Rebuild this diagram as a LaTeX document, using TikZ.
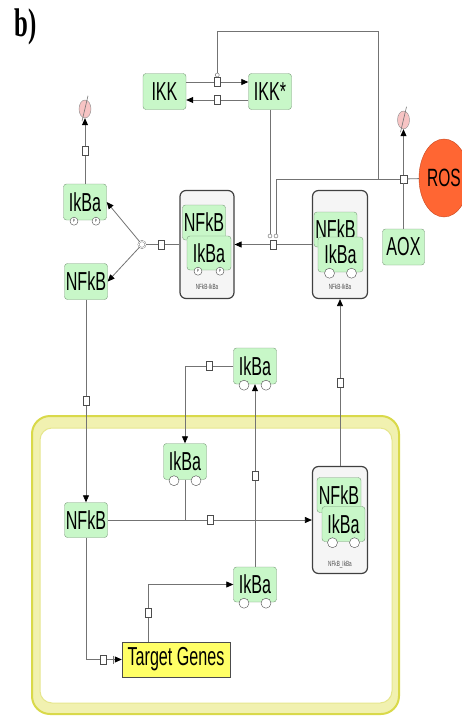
\documentclass[tikz,border=0pt]{standalone}
\usepackage{fontspec}
\newfontfamily\spnfont[FakeStretch=0.62]{Liberation Sans}
\newfontfamily\panelfont[FakeStretch=0.62]{Liberation Serif}
\usetikzlibrary{positioning,arrows.meta,shapes.geometric}
\definecolor{spnfill}{HTML}{C8F7C8}
\definecolor{spnedge}{HTML}{7A9A7A}
\definecolor{nucedge}{HTML}{D9D94A}
\definecolor{nucband}{HTML}{F1F1B0}
\definecolor{nucinner}{HTML}{E6E68C}
\definecolor{rosfill}{HTML}{FF6633}
\definecolor{rosedge}{HTML}{C8461E}
\definecolor{sinkfill}{HTML}{F7C4C4}
\definecolor{genefill}{HTML}{FFFF66}
\tikzset{
  spn/.style={draw=spnedge, fill=spnfill, rounded corners=3pt, inner sep=0pt,
    minimum width=43pt, minimum height=36pt, font=\spnfont\fontsize{26}{26}\selectfont},
  cplx/.style={draw=black!75, fill=black!4, rounded corners=6pt, line width=1.2pt,
    minimum width=55pt, minimum height=108pt},
  cplxlab/.style={font=\spnfont\fontsize{7.5}{8}\selectfont, text=black!70},
  wire/.style={draw=black!55, line width=0.8pt},
  flow/.style={wire, -{Triangle[length=7pt,width=6pt,color=black]}},
}

\begin{document}
\begin{tikzpicture}[x=1pt, y=-1pt,
    site/.style={circle, draw=black!70, fill=white, inner sep=0pt, minimum size=10pt},
    psite/.style={site, minimum size=8pt, font=\spnfont\fontsize{4.5}{5}\selectfont},
    proc/.style={draw=black!70, fill=white, inner sep=0pt, minimum width=6pt, minimum height=9pt, line width=0.6pt},
    catal/.style={circle, draw=black!60, fill=white, inner sep=0pt, minimum size=4pt},
    sink/.style={ellipse, draw=black!45, fill=sinkfill, inner sep=0pt, minimum width=12pt, minimum height=18pt}]
  \useasboundingbox (0,0) rectangle (462,717);
  \clip (0,0) rectangle (462,717);
  % nucleus
  \draw[draw=nucedge, fill=nucband, line width=2pt, rounded corners=18pt] (32,416) rectangle (399,714);
  \draw[draw=nucinner, fill=white, line width=1pt, rounded corners=12pt] (40,428) rectangle (392,703);
  \node[font=\panelfont\bfseries\fontsize{40}{40}\selectfont] (panel) at (26,27) {b)};
  % species
  \node[spn] (IKK) at (164.5,91.5) {IKK};
  \node[spn] (IKKs) at (270,91.5) {IKK*};
  \node[spn] (IkBaP) at (85,202) {IkBa};
  \node[spn] (NFkBc) at (86,281.5) {NFkB};
  \node[spn, minimum width=42pt] (AOX) at (403.5,247) {AOX};
  \node[ellipse, draw=rosedge, fill=rosfill, inner sep=0pt, minimum width=50pt, minimum height=78pt,
    font=\spnfont\fontsize{25}{25}\selectfont] (ROS) at (444,178) {ROS};
  \node[spn] (IkBaCyt) at (255,366) {IkBa};
  \node[spn] (IkBaN1) at (185,461.5) {IkBa};
  \node[spn, minimum height=35pt] (NFkBn) at (86,520) {NFkB};
  \node[spn, minimum height=35pt] (IkBaN2) at (255,584.5) {IkBa};
  \node[spn, fill=genefill, draw=black!70, rounded corners=0pt, minimum width=108pt, minimum height=35pt] (Target) at (176,659.5) {Target Genes};
  % complexes
  \node[cplx, minimum width=54pt] (cx1) at (207,244.5) {};
  \node[spn, minimum height=35pt] (cx1N) at (204,222.5) {NFkB};
  \node[spn, minimum width=44pt, minimum height=34pt] (cx1I) at (209,253) {IkBa};
  \node[cplxlab] (cx1lab) at (207,287) {NFkB-IkBa};
  \node[cplx] (cx2) at (340,244.5) {};
  \node[spn, minimum height=35pt] (cx2N) at (335.5,229.5) {NFkB};
  \node[spn, minimum width=45pt, minimum height=35pt] (cx2I) at (340.5,254.5) {IkBa};
  \node[cplxlab] (cx2lab) at (340,287) {NFkB-IkBa};
  \node[cplx, minimum height=107pt] (cx3) at (340,520) {};
  \node[spn, minimum width=44pt, minimum height=35pt] (cx3N) at (339,495) {NFkB};
  \node[spn, minimum height=35pt] (cx3I) at (343.5,524) {IkBa};
  \node[cplxlab] (cx3lab) at (340,565) {NFkB\_IkBa};
  % binding sites
  \foreach \n in {IkBaCyt,IkBaN1,IkBaN2,cx2I,cx3I} {
    \node[site] (\n-a) at ([xshift=-11pt,yshift=-1pt]\n.south) {};
    \node[site] (\n-b) at ([xshift=11pt,yshift=-1pt]\n.south) {};
  }
  \foreach \n in {IkBaP,cx1I} {
    \node[psite] (\n-a) at ([xshift=-11pt,yshift=-1pt]\n.south) {P};
    \node[psite] (\n-b) at ([xshift=11pt,yshift=-1pt]\n.south) {P};
  }
  % sinks
  \node[sink] (deg1) at (85,109) {};
  \node[sink] (deg2) at (403.5,120) {};
  \foreach \d in {deg1,deg2}
    \draw[draw=black!55, line width=0.6pt] ([xshift=-3pt,yshift=-3pt]\d.south) -- ([xshift=3pt,yshift=4pt]\d.north);
  % IKK activation
  \draw[flow] ([yshift=9.5pt]IKK.east) -- node[proc] (rAct) {} ([yshift=9.5pt]IKKs.west);
  \draw[flow] ([yshift=-8.5pt]IKKs.west) -- node[proc] (rInact) {} ([yshift=-8.5pt]IKK.east);
  \node[catal, above=0pt of rAct] (mAct) {};
  % ROS removal by AOX
  \node[proc, minimum width=7pt, minimum height=8pt] (rROS) at (403.5,179) {};
  \draw[wire] (AOX) -- (rROS);
  \draw[wire] (ROS) -- (rROS);
  \draw[flow] (rROS) -- (deg2);
  \coordinate (rosBend) at (378,179);
  \coordinate (rosTop) at (378,31);
  \draw[wire] (rROS) -- (rosBend) -- (rosTop) -| (mAct);
  % dissociation of the complex
  \draw[flow] (cx2.west) -- node[proc] (rDis) {} (cx1.east);
  \node[catal] (mDisA) at (270,236) {};
  \node[catal] (mDisB) at (276,236) {};
  \draw[wire] (IKKs.south) -- (mDisA);
  \draw[wire] (rosBend) -| (mDisB);
  % degradation of IkBa-P
  \draw[flow] (IkBaP) -- node[proc] (rDeg) {} (deg1);
  % release of NFkB
  \node[circle, draw=black!55, double distance=0.8pt, inner sep=0pt, minimum size=7pt] (split) at (142,244.5) {};
  \draw[wire] (cx1) -- node[proc, pos=0.55] (rRel) {} (split);
  \draw[flow] (split) -- (IkBaP.east);
  \draw[flow] (split) -- (NFkBc.east);
  % nuclear import
  \draw[flow] (NFkBc) -- node[proc] (rImp) {} (NFkBn);
  \draw[flow] (IkBaCyt.west) -| node[proc, pos=0.25] (rImpI) {} (IkBaN1.north);
  % complex formation in the nucleus
  \draw[flow] (NFkBn) -- node[proc] (rBind) {} (cx3);
  \draw[wire] (IkBaN1.south) -- (IkBaN1.south |- NFkBn.east);
  % export
  \draw[flow] (cx3) -- node[proc] (rExp) {} (cx2);
  \draw[flow] (IkBaN2) -- node[proc] (rExpI) {} (IkBaCyt);
  % transcription and translation
  \draw[wire, -{Bar[width=8pt,sep=1.5pt]Triangle[length=7pt,width=6pt,color=black]}]
    (NFkBn.south) |- node[proc, pos=0.74] (rTrans) {} (Target.west);
  \draw[flow] ([xshift=-28pt]Target.north) |- node[proc, pos=0.25] (rTransl) {} (IkBaN2.west);
\end{tikzpicture}
\end{document}
